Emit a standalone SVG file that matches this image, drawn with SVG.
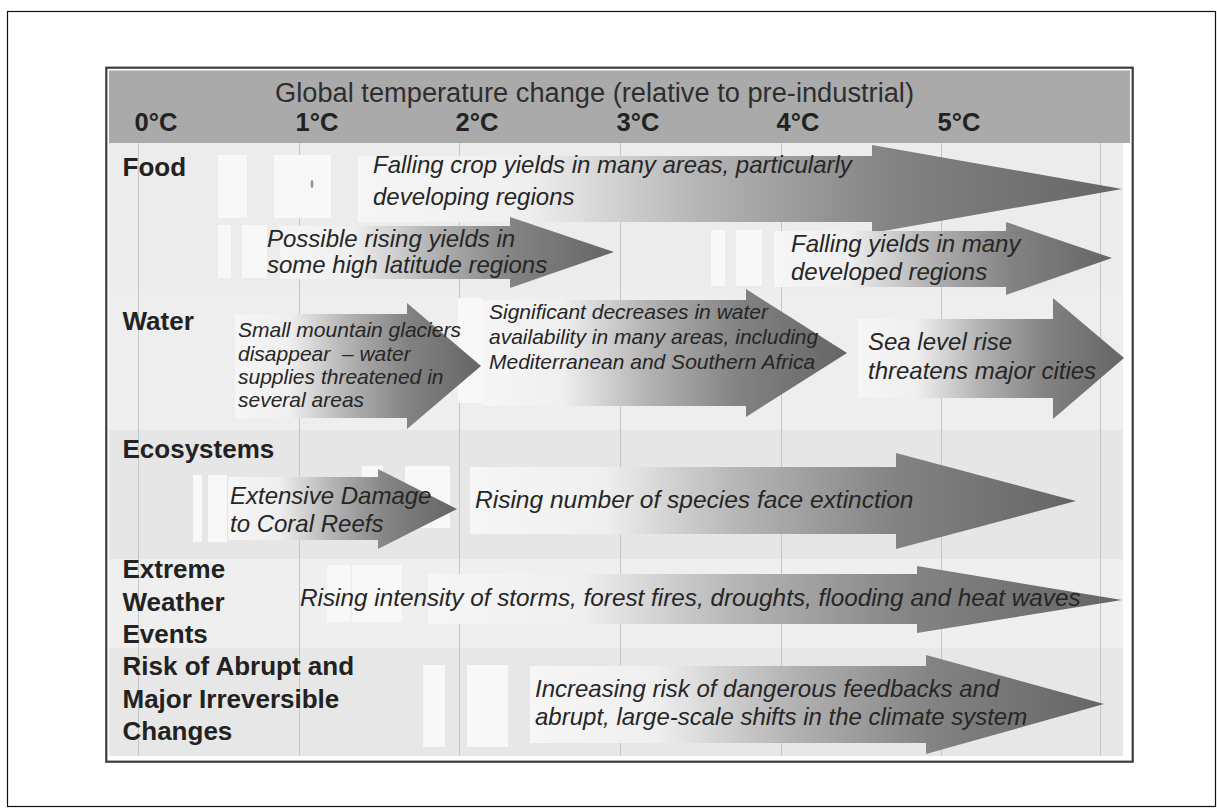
<svg xmlns="http://www.w3.org/2000/svg" width="1217" height="809" viewBox="0 0 1217 809">
  <style>
    .hdr { font-family: "Liberation Sans", Arial, sans-serif; fill: #2e2e2e; }
    .title { font-size: 27px; }
    .deg { font-size: 25.5px; font-weight: bold; fill: #222; text-anchor: middle; }
    .row { font-family: "Liberation Sans", Arial, sans-serif; font-size: 26px; font-weight: bold; fill: #222; }
    .lbl { font-family: "Liberation Sans", Arial, sans-serif; font-style: italic; font-size: 24px; fill: #262626; }
    .sm { font-size: 21px; }
    .arrow { fill: url(#shade); }
    .tail { fill: #f8f8f8; }
    .grid { stroke: #c6c6c6; stroke-width: 1; }
  </style>
  <defs>
    <linearGradient id="shade" x1="0" y1="0" x2="1" y2="0">
      <stop offset="0" stop-color="#f6f6f6"/>
      <stop offset="0.22" stop-color="#efefef"/>
      <stop offset="0.45" stop-color="#b4b4b4"/>
      <stop offset="0.7" stop-color="#838383"/>
      <stop offset="1" stop-color="#656565"/>
    </linearGradient>
  </defs>

  <!-- page and panel frame -->
  <rect x="0" y="0" width="1217" height="809" fill="#ffffff"/>
  <rect x="7.5" y="11.5" width="1208" height="795" fill="none" stroke="#111" stroke-width="1.2"/>
  <rect x="106.3" y="67.7" width="1026.4" height="694" fill="#ffffff" stroke="#3c3c3c" stroke-width="2.2"/>

  <!-- row bands -->
  <g id="bands">
    <rect x="109" y="70.5" width="1021" height="72.5" fill="#aaaaaa"/>
    <rect x="109" y="143" width="1014" height="147" fill="#ececec"/>
    <rect x="109" y="290" width="1014" height="140" fill="#eeeeee"/>
    <rect x="109" y="430" width="1014" height="129" fill="#e6e6e6"/>
    <rect x="109" y="559" width="1014" height="89" fill="#efefef"/>
    <rect x="109" y="648" width="1014" height="108" fill="#e7e7e7"/>
  </g>

  <!-- temperature grid -->
  <g id="grid" class="grid">
    <line x1="138.5" y1="143" x2="138.5" y2="756"/>
    <line x1="299.5" y1="143" x2="299.5" y2="756"/>
    <line x1="459.5" y1="143" x2="459.5" y2="756"/>
    <line x1="620.5" y1="143" x2="620.5" y2="756"/>
    <line x1="781.5" y1="143" x2="781.5" y2="756"/>
    <line x1="941.5" y1="143" x2="941.5" y2="756"/>
    <line x1="1100.5" y1="143" x2="1100.5" y2="756"/>
  </g>

  <!-- header -->
  <g id="header" class="hdr">
    <text class="title" x="594.5" y="102" text-anchor="middle" textLength="639" lengthAdjust="spacingAndGlyphs">Global temperature change (relative to pre-industrial)</text>
    <text class="deg" x="156" y="131">0°C</text>
    <text class="deg" x="317" y="131">1°C</text>
    <text class="deg" x="477" y="131">2°C</text>
    <text class="deg" x="638" y="131">3°C</text>
    <text class="deg" x="798" y="131">4°C</text>
    <text class="deg" x="959" y="131">5°C</text>
  </g>

  <!-- row labels -->
  <g id="label-food"><text class="row" x="122.5" y="176">Food</text></g>
  <g id="label-water"><text class="row" x="122.5" y="330">Water</text></g>
  <g id="label-ecosystems"><text class="row" x="122.5" y="458">Ecosystems</text></g>
  <g id="label-extreme">
    <text class="row" x="122.5" y="578">Extreme</text>
    <text class="row" x="122.5" y="611">Weather</text>
    <text class="row" x="122.5" y="643">Events</text>
  </g>
  <g id="label-risk">
    <text class="row" x="122.5" y="675">Risk of Abrupt and</text>
    <text class="row" x="122.5" y="708">Major Irreversible</text>
    <text class="row" x="122.5" y="740">Changes</text>
  </g>

  <!-- Food -->
  <g id="food-crop-yields">
    <rect class="tail" x="218" y="155" width="29" height="63"/>
    <rect class="tail" x="274" y="155" width="57" height="63"/>
    <ellipse cx="312" cy="184" rx="1.4" ry="4" fill="#9a9a9a"/>
    <polygon class="arrow" points="358,156 872,156 872,145 1122,189 872,233 872,222 358,222"/>
    <text class="lbl" x="373" y="173">Falling crop yields in many areas, particularly</text>
    <text class="lbl" x="373" y="205">developing regions</text>
  </g>
  <g id="food-rising-yields">
    <rect class="tail" x="218" y="225" width="13" height="53"/>
    <rect class="tail" x="242" y="225" width="25" height="53"/>
    <polygon class="arrow" points="280,226 510,226 510,217 614,252 510,288 510,279 280,279"/>
    <text class="lbl" x="267" y="247">Possible rising yields in</text>
    <text class="lbl" x="267" y="273">some high latitude regions</text>
  </g>
  <g id="food-developed">
    <rect class="tail" x="711" y="230" width="14" height="56"/>
    <rect class="tail" x="736" y="230" width="26" height="56"/>
    <polygon class="arrow" points="774,231 1006,231 1006,222 1112,258 1006,295 1006,287 774,287"/>
    <text class="lbl" x="791" y="252">Falling yields in many</text>
    <text class="lbl" x="791" y="280">developed regions</text>
  </g>

  <!-- Water -->
  <g id="water-availability">
    <rect class="tail" x="458" y="298" width="24" height="105"/>
    <polygon class="arrow" points="482,300 746,300 746,289 847,353 746,417 746,406 482,406"/>
    <text class="lbl sm" x="489" y="319">Significant decreases in water</text>
    <text class="lbl sm" x="489" y="344">availability in many areas, including</text>
    <text class="lbl sm" x="489" y="369">Mediterranean and Southern Africa</text>
  </g>
  <g id="water-glaciers">
    <polygon class="arrow" points="235,314 407,314 407,303 481,366 407,429 407,418 235,418"/>
    <text class="lbl sm" x="238" y="337">Small mountain glaciers</text>
    <text class="lbl sm" x="238" y="361" xml:space="preserve">disappear  – water</text>
    <text class="lbl sm" x="238" y="384">supplies threatened in</text>
    <text class="lbl sm" x="238" y="407">several areas</text>
  </g>
  <g id="water-sea-level">
    <polygon class="arrow" points="858,319 1053,319 1053,298 1124,358 1053,419 1053,398 858,398"/>
    <text class="lbl" x="868" y="350">Sea level rise</text>
    <text class="lbl" x="868" y="379">threatens major cities</text>
  </g>

  <!-- Ecosystems -->
  <g id="eco-extinction">
    <rect class="tail" x="362" y="466" width="21" height="62"/>
    <rect class="tail" x="405" y="466" width="45" height="62"/>
    <polygon class="arrow" points="470,467 896,467 896,453 1076,501 896,549 896,534 470,534"/>
    <text class="lbl" x="475" y="508" style="font-size:24.5px">Rising number of species face extinction</text>
  </g>
  <g id="eco-coral">
    <rect class="tail" x="193" y="475" width="9" height="67"/>
    <rect class="tail" x="208" y="475" width="19" height="67"/>
    <polygon class="arrow" points="228,477 378,477 378,469 457,509 378,549 378,540 228,540"/>
    <text class="lbl" x="230" y="504">Extensive Damage</text>
    <text class="lbl" x="230" y="532">to Coral Reefs</text>
  </g>

  <!-- Extreme weather -->
  <g id="extreme-intensity">
    <rect class="tail" x="327" y="565" width="23" height="57"/>
    <rect class="tail" x="352" y="565" width="50" height="57"/>
    <polygon class="arrow" points="428,574 917,574 917,566 1122,600 917,633 917,624 428,624"/>
    <text class="lbl" x="300" y="606" style="font-size:24.3px">Rising intensity of storms, forest fires, droughts, flooding and heat waves</text>
  </g>

  <!-- Abrupt changes -->
  <g id="risk-feedbacks">
    <rect class="tail" x="423" y="665" width="22" height="82"/>
    <rect class="tail" x="467" y="665" width="41" height="82"/>
    <polygon class="arrow" points="530,666 926,666 926,655 1104,704 926,754 926,743 530,743"/>
    <text class="lbl" x="535" y="697">Increasing risk of dangerous feedbacks and</text>
    <text class="lbl" x="535" y="725">abrupt, large-scale shifts in the climate system</text>
  </g>
</svg>
